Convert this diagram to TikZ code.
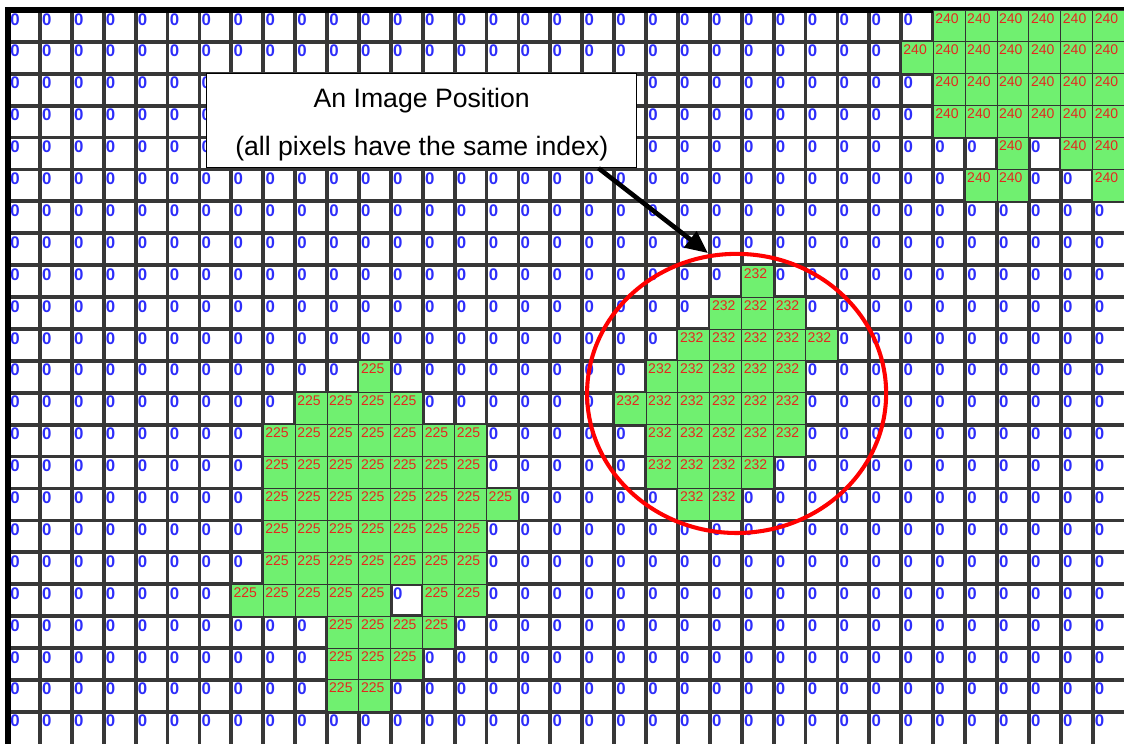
\documentclass[tikz,border=0pt]{standalone}
\usepackage{fontspec}
\setmainfont{Liberation Sans}
\usetikzlibrary{positioning,arrows.meta,calc}
\definecolor{cellgreen}{RGB}{112,240,112}
\definecolor{idxred}{RGB}{228,40,30}
\definecolor{zeroblue}{RGB}{45,45,250}
\definecolor{gridgray}{RGB}{55,55,55}
\tikzset{
  gridln/.style={line width=2.7pt,gridgray},
  border/.style={line width=3.6pt,black},
  zeroidx/.style={anchor=north west,inner sep=0pt,text=zeroblue,
    font=\bfseries\fontsize{12}{14}\selectfont},
  pix/.style={fill=cellgreen,draw=black!80,line width=0.6pt},
  idx/.style={anchor=north west,inner sep=0pt,text=idxred,
    font=\fontsize{10}{12}\selectfont},
  callout/.style={draw=black,line width=0.7pt,fill=white,align=center,
    minimum width=10.78cm,minimum height=2.35cm,inner sep=0pt,
    font=\fontsize{19}{34.3}\selectfont},
  pointer/.style={-{Triangle[length=16pt,width=14pt]},line width=3.3pt},
  roi/.style={draw=red,line width=2.9pt},
}
\begin{document}
\begin{tikzpicture}[x=0.8cm,y=-0.8cm]
  \clip (-0.251,-0.313) rectangle (34.984,22.98);
  \fill[white] (-0.251,-0.313) rectangle (34.984,22.98);
  % pixel grid
  \foreach \c in {1,...,34} \draw[gridln] (\c,0) -- (\c,23.2);
  \foreach \r in {1,...,22} \draw[gridln] (0,\r) -- (35.2,\r);
  \draw[border] (0,23.2) -- (0,0) -- (35.2,0);
  % background index
  \foreach \c in {0,...,34}{
    \foreach \r in {0,...,22}{
      \node[zeroidx] (z\c-\r) at (\c+0.063,\r+0.094) {0};
    }}
  % image positions: value/row/columns
  \foreach \v/\r/\cols in {
      240/0/{29,...,34}, 240/1/{28,...,34}, 240/2/{29,...,34},
      240/3/{29,...,34}, 240/4/{31,33,34}, 240/5/{30,31,34},
      232/8/{23}, 232/9/{22,...,24}, 232/10/{21,...,25}, 232/11/{20,...,24},
      232/12/{19,...,24}, 232/13/{20,...,24}, 232/14/{20,...,23}, 232/15/{21,22},
      225/11/{11}, 225/12/{9,...,12}, 225/13/{8,...,14}, 225/14/{8,...,14},
      225/15/{8,...,15}, 225/16/{8,...,14}, 225/17/{8,...,14},
      225/18/{7,...,11,13,14}, 225/19/{10,...,13}, 225/20/{10,...,12},
      225/21/{10,11}}{
    \foreach \c in \cols{
      \draw[pix] (\c,\r) rectangle ++(1,1);
      \node[idx] (g\c-\r) at (\c+0.06,\r+0.094) {\v};
    }}
  % callout
  \node[callout] (pos) at (12.97,3.475)
    {\rule{0pt}{19.5pt}An Image Position\\(all pixels have the same index)};
  \coordinate (tip) at (21.94,7.62);
  \draw[pointer] ([xshift=-0.97cm]pos.south east) -- (tip);
  \draw[roi] (22.84,12.02) ellipse [x radius=3.75cm,y radius=3.5cm];
\end{tikzpicture}
\end{document}
